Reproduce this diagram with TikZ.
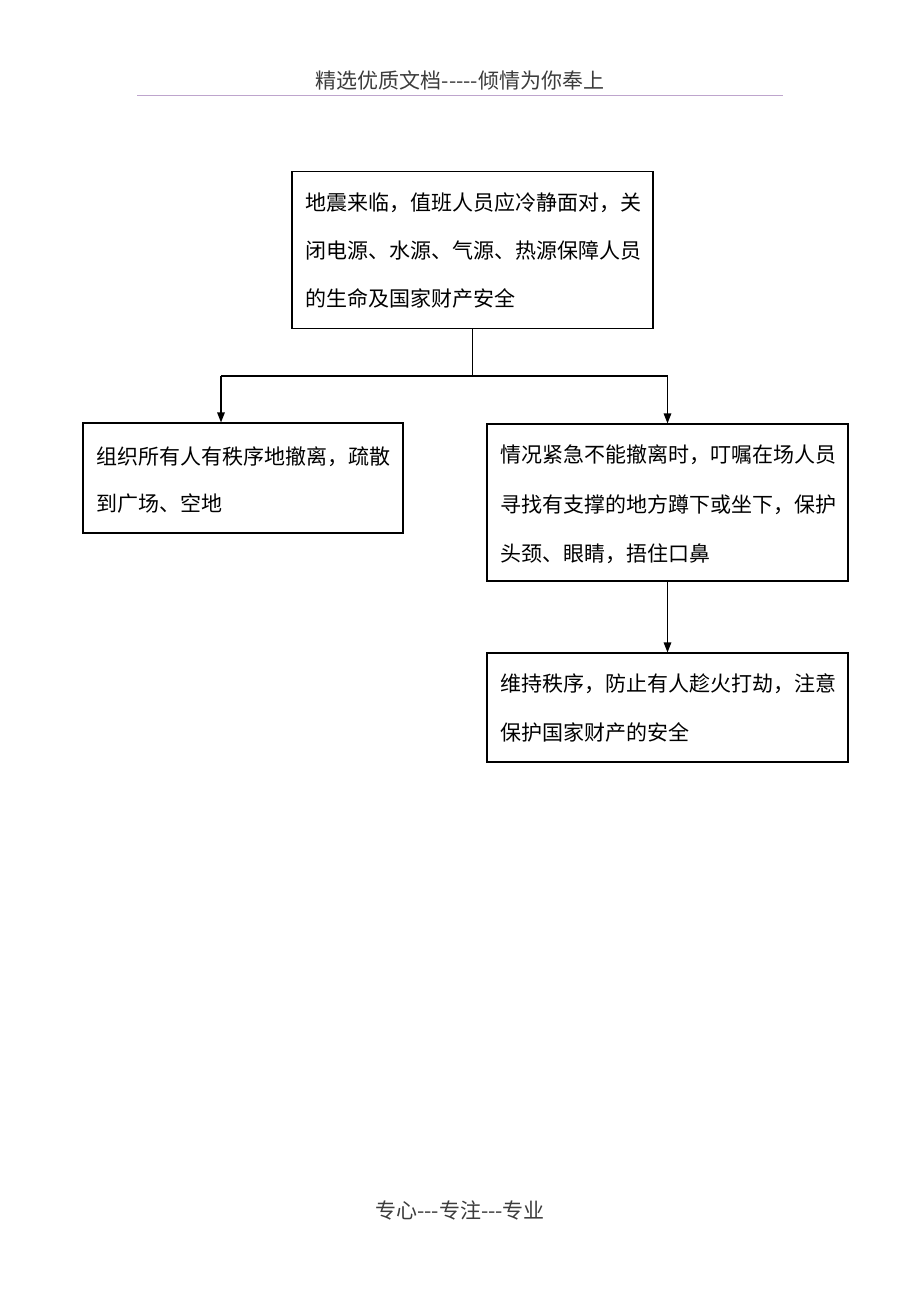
\documentclass[tikz,border=0pt]{standalone}
\usepackage{fontspec}
\newfontfamily\cjk{Noto Sans CJK SC}
\usetikzlibrary{arrows.meta}
\definecolor{hdrline}{RGB}{190,165,205}
\definecolor{hdrtext}{RGB}{60,60,60}
\tikzset{
  flowbox/.style={draw=black, line width=1.1pt, rectangle, inner sep=0pt},
  line/.style={anchor=base west, inner sep=0pt, font=\cjk\fontsize{21}{24}\selectfont, text=black},
  conn/.style={draw=black, line width=1.2pt},
  arr/.style={conn, -{Triangle[length=10pt,width=7.5pt]}},
  hdr/.style={anchor=base, inner sep=0pt, font=\cjk\fontsize{21}{24}\selectfont, text=hdrtext}
}
\begin{document}
\begin{tikzpicture}[x=1pt,y=-1pt]
\useasboundingbox (0,0) rectangle (920,1302);
\fill[white] (0,0) rectangle (920,1302);
% header
\node[hdr] (head) at (460,88) {精选优质文档-----倾情为你奉上};
\coordinate (hl) at (137,95);
\coordinate (hr) at (783,95);
\draw[hdrline, line width=1pt] (hl) -- (hr);
% footer
\node[hdr] (foot) at (460,1218) {专心---专注---专业};
% boxes
\node[flowbox, minimum width=361pt, minimum height=157pt] (top) at (472.5,250) {};
\node[flowbox, minimum width=320pt, minimum height=110pt] (left) at (243,478) {};
\node[flowbox, minimum width=361pt, minimum height=157pt] (r1) at (667.5,502.5) {};
\node[flowbox, minimum width=361pt, minimum height=109pt] (r2) at (667.5,707.5) {};
% text
\node[line] (t1) at (305,210) {地震来临，值班人员应冷静面对，关};
\node[line] (t2) at (305,258) {闭电源、水源、气源、热源保障人员};
\node[line] (t3) at (305,306) {的生命及国家财产安全};
\node[line] (l1) at (96,464) {组织所有人有秩序地撤离，疏散};
\node[line] (l2) at (96,511) {到广场、空地};
\node[line] (a1) at (500,462) {情况紧急不能撤离时，叮嘱在场人员};
\node[line] (a2) at (500,512) {寻找有支撑的地方蹲下或坐下，保护};
\node[line] (a3) at (500,561) {头颈、眼睛，捂住口鼻};
\node[line] (b1) at (500,691) {维持秩序，防止有人趁火打劫，注意};
\node[line] (b2) at (500,740) {保护国家财产的安全};
% connectors
\coordinate (j) at (472.5,376);
\coordinate (jl) at (221,376);
\coordinate (jr) at (667.5,376);
\draw[conn] (top.south) -- (j);
\draw[conn] (jl) -- (jr);
\draw[arr] (jl) -- (jl |- left.north);
\draw[arr] (jr) -- (r1.north);
\draw[arr] (r1.south) -- (r2.north);
\end{tikzpicture}
\end{document}
